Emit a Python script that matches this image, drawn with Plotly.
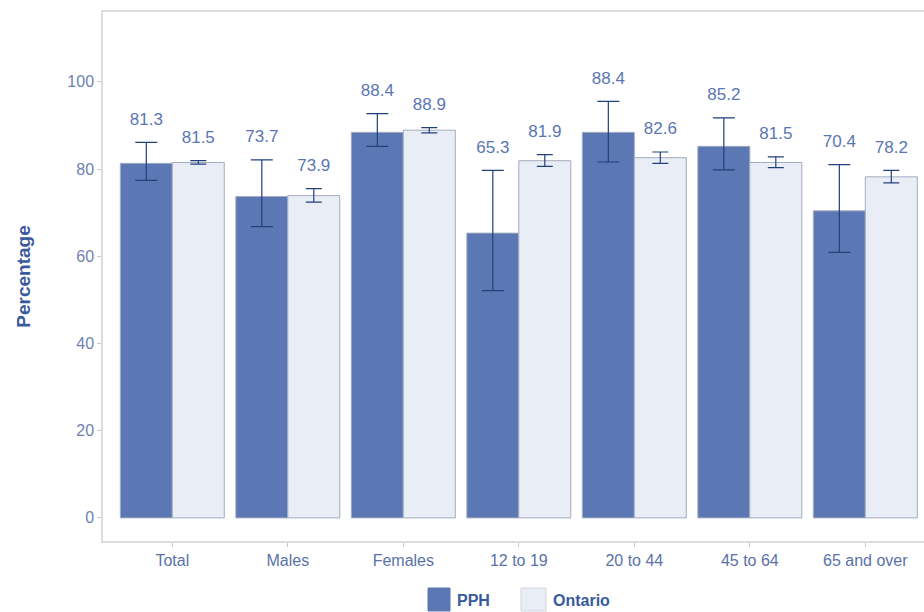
import plotly.graph_objects as go

# Survey percentages by group, with 95% confidence limits
categories = ["Total", "Males", "Females", "12 to 19", "20 to 44", "45 to 64", "65 and over"]

pph_value = [81.3, 73.7, 88.4, 65.3, 88.4, 85.2, 70.4]
pph_lower = [77.4, 66.8, 85.2, 52.1, 81.6, 79.8, 60.9]
pph_upper = [86.1, 82.1, 92.7, 79.7, 95.5, 91.7, 81.0]

ont_value = [81.5, 73.9, 88.9, 81.9, 82.6, 81.5, 78.2]
ont_lower = [81.1, 72.4, 88.3, 80.6, 81.3, 80.3, 76.8]
ont_upper = [81.9, 75.5, 89.5, 83.3, 83.9, 82.8, 79.7]

series_names = ["PPH", "Ontario"]

# Styling
W, H = 924, 612
M_L, M_R, M_T, M_B = 103, 0, 12, 71
PPH_FILL = "#5B78B5"
ONT_FILL = "#E9EDF6"
BAR_LINE = "#A3ACBE"
ERR_COLOR = "#22407A"
LABEL_COLOR = "#5A76B2"
TICK_COLOR = "#5A72A8"
TITLE_COLOR = "#3A5A9E"
FONT = "Liberation Sans, Arial, sans-serif"
LABEL_GAP = 5.0  # value labels sit this far above the upper limit


def err(vals, lo, hi):
    return dict(
        type="data", symmetric=False,
        array=[h - v for v, h in zip(vals, hi)],
        arrayminus=[v - l for v, l in zip(vals, lo)],
        color=ERR_COLOR, thickness=1.2,
    )


fig = go.Figure()

fig.add_trace(go.Bar(
    name=series_names[0], x=categories, y=pph_value, offsetgroup="pph",
    marker=dict(color=PPH_FILL, line=dict(color=BAR_LINE, width=1)),
    error_y=dict(err(pph_value, pph_lower, pph_upper), width=11),
    showlegend=False,
))
fig.add_trace(go.Bar(
    name=series_names[1], x=categories, y=ont_value, offsetgroup="ont",
    marker=dict(color=ONT_FILL, line=dict(color=BAR_LINE, width=1)),
    error_y=dict(err(ont_value, ont_lower, ont_upper), width=8),
    showlegend=False,
))

# Value labels above each confidence interval
for vals, hi, grp in [(pph_value, pph_upper, "pph"), (ont_value, ont_upper, "ont")]:
    fig.add_trace(go.Scatter(
        x=categories, y=[h + LABEL_GAP for h in hi], offsetgroup=grp,
        mode="text", text=[f"{v:.1f}" for v in vals],
        textposition="middle center",
        textfont=dict(family=FONT, size=17, color=LABEL_COLOR),
        showlegend=False, hoverinfo="skip",
    ))


# Legend drawn below the panel
def px_x(px):
    return (px - M_L) / (W - M_L - M_R)


def px_y(py):
    return (H - M_B - py) / (H - M_T - M_B)


shapes = []
annotations = []
for name, fill, x0, x1, tx in [
    (series_names[0], PPH_FILL, 428, 450, 455),
    (series_names[1], ONT_FILL, 521, 546, 551),
]:
    shapes.append(dict(
        type="rect", xref="paper", yref="paper",
        x0=px_x(x0), x1=px_x(x1), y0=px_y(611), y1=px_y(588),
        fillcolor=fill, line=dict(color="#D0D5E0" if fill == ONT_FILL else fill, width=1),
    ))
    annotations.append(dict(
        xref="paper", yref="paper", x=px_x(tx), y=px_y(600),
        xanchor="left", yanchor="middle", showarrow=False,
        text=f"<b>{name}</b>", font=dict(family=FONT, size=16, color=TITLE_COLOR),
    ))

fig.update_layout(
    width=W, height=H,
    margin=dict(l=M_L, r=M_R, t=M_T, b=M_B),
    paper_bgcolor="white", plot_bgcolor="white",
    barmode="group", bargap=0.1, bargroupgap=0,
    scattermode="group", scattergap=0.1,
    font=dict(family=FONT, color=TICK_COLOR),
    shapes=shapes, annotations=annotations,
    showlegend=False,
)
fig.update_xaxes(
    type="category", range=[-0.6, 6.508],
    showline=True, linecolor="#DDDDDD", linewidth=1.5, mirror=True,
    ticks="outside", ticklen=4, tickcolor="#C8C8C8",
    tickfont=dict(family=FONT, size=16, color=TICK_COLOR),
    showgrid=False, zeroline=False,
)
fig.update_yaxes(
    range=[-5.3, 116], tickvals=[0, 20, 40, 60, 80, 100],
    showline=True, linecolor="#DDDDDD", linewidth=1.5, mirror=False,
    ticks="outside", ticklen=4, tickcolor="#C8C8C8",
    tickfont=dict(family=FONT, size=16, color="#6E82B0"),
    title=dict(text="<b>Percentage</b>", font=dict(family=FONT, size=19, color=TITLE_COLOR), standoff=32),
    showgrid=False, zeroline=False,
)

fig.write_html("out.html")
